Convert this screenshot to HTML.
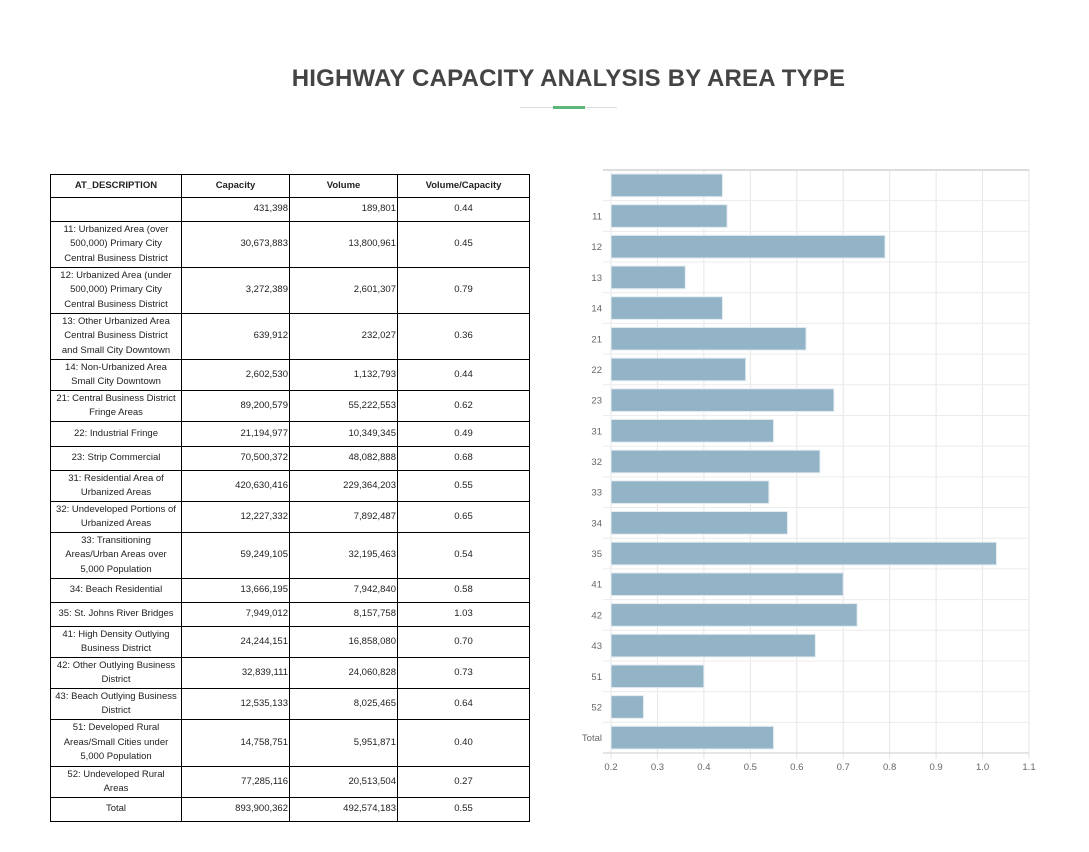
<!DOCTYPE html>
<html><head><meta charset="utf-8"><style>
body{margin:0;background:#fff;width:1089px;height:852px;position:relative;font-family:"Liberation Sans",sans-serif;overflow:hidden}
#title{position:absolute;left:24px;width:1089px;top:65px;text-align:center;font-size:24px;font-weight:bold;color:#444;letter-spacing:0.2px}
#rule{position:absolute;left:520px;top:107px;width:97px;height:1px;background:#ddd}
#rule-g{position:absolute;left:553px;top:106px;width:32px;height:3px;background:#5cb87a}
table{position:absolute;left:50px;top:174px;border-collapse:collapse;font-size:9.5px;color:#222;width:479px;table-layout:fixed}
td,th{border:1px solid #000;padding:0 1px;line-height:14.5px}
th{height:22px;font-weight:bold}
td.d{text-align:center;padding:0 7px}
td.n{text-align:right}
td.v{text-align:center}
</style></head><body>
<div id="title">HIGHWAY CAPACITY ANALYSIS BY AREA TYPE</div>
<div id="rule"></div>
<div id="rule-g"></div>
<table>
<colgroup><col style="width:131px"><col style="width:108px"><col style="width:108px"><col style="width:132px"></colgroup>
<tr><th>AT_DESCRIPTION</th><th>Capacity</th><th>Volume</th><th>Volume/Capacity</th></tr>
<tr style="height:24px"><td class="d"></td><td class="n">431,398</td><td class="n">189,801</td><td class="v">0.44</td></tr>
<tr style="height:46px"><td class="d">11: Urbanized Area (over 500,000) Primary City Central Business District</td><td class="n">30,673,883</td><td class="n">13,800,961</td><td class="v">0.45</td></tr>
<tr style="height:46px"><td class="d">12: Urbanized Area (under 500,000) Primary City Central Business District</td><td class="n">3,272,389</td><td class="n">2,601,307</td><td class="v">0.79</td></tr>
<tr style="height:46px"><td class="d">13: Other Urbanized Area Central Business District and Small City Downtown</td><td class="n">639,912</td><td class="n">232,027</td><td class="v">0.36</td></tr>
<tr style="height:31px"><td class="d">14: Non-Urbanized Area Small City Downtown</td><td class="n">2,602,530</td><td class="n">1,132,793</td><td class="v">0.44</td></tr>
<tr style="height:31px"><td class="d" style="padding:0 1px">21: Central Business District Fringe Areas</td><td class="n">89,200,579</td><td class="n">55,222,553</td><td class="v">0.62</td></tr>
<tr style="height:25px"><td class="d">22: Industrial Fringe</td><td class="n">21,194,977</td><td class="n">10,349,345</td><td class="v">0.49</td></tr>
<tr style="height:24px"><td class="d">23: Strip Commercial</td><td class="n">70,500,372</td><td class="n">48,082,888</td><td class="v">0.68</td></tr>
<tr style="height:31px"><td class="d">31: Residential Area of Urbanized Areas</td><td class="n">420,630,416</td><td class="n">229,364,203</td><td class="v">0.55</td></tr>
<tr style="height:31px"><td class="d" style="padding:0 1px">32: Undeveloped Portions of Urbanized Areas</td><td class="n">12,227,332</td><td class="n">7,892,487</td><td class="v">0.65</td></tr>
<tr style="height:46px"><td class="d">33: Transitioning Areas/Urban Areas over 5,000 Population</td><td class="n">59,249,105</td><td class="n">32,195,463</td><td class="v">0.54</td></tr>
<tr style="height:24px"><td class="d">34: Beach Residential</td><td class="n">13,666,195</td><td class="n">7,942,840</td><td class="v">0.58</td></tr>
<tr style="height:24px"><td class="d" style="padding:0 1px">35: St. Johns River Bridges</td><td class="n">7,949,012</td><td class="n">8,157,758</td><td class="v">1.03</td></tr>
<tr style="height:31px"><td class="d">41: High Density Outlying Business District</td><td class="n">24,244,151</td><td class="n">16,858,080</td><td class="v">0.70</td></tr>
<tr style="height:31px"><td class="d" style="padding:0 1px">42: Other Outlying Business District</td><td class="n">32,839,111</td><td class="n">24,060,828</td><td class="v">0.73</td></tr>
<tr style="height:31px"><td class="d" style="padding:0 1px">43: Beach Outlying Business District</td><td class="n">12,535,133</td><td class="n">8,025,465</td><td class="v">0.64</td></tr>
<tr style="height:47px"><td class="d">51: Developed Rural Areas/Small Cities under 5,000 Population</td><td class="n">14,758,751</td><td class="n">5,951,871</td><td class="v">0.40</td></tr>
<tr style="height:31px"><td class="d">52: Undeveloped Rural Areas</td><td class="n">77,285,116</td><td class="n">20,513,504</td><td class="v">0.27</td></tr>
<tr style="height:24px"><td class="d">Total</td><td class="n">893,900,362</td><td class="n">492,574,183</td><td class="v">0.55</td></tr>
</table>
<svg id="chart" width="1089" height="852" style="position:absolute;left:0;top:0"></svg>
<script>
const categories=["","11","12","13","14","21","22","23","31","32","33","34","35","41","42","43","51","52","Total"];
const ratios=[0.44,0.45,0.79,0.36,0.44,0.62,0.49,0.68,0.55,0.65,0.54,0.58,1.03,0.70,0.73,0.64,0.40,0.27,0.55];
const xTicks=[0.2,0.3,0.4,0.5,0.6,0.7,0.8,0.9,1.0,1.1];
const NS="http://www.w3.org/2000/svg";
const svgEl=document.getElementById('chart');
const PL=611,PR=1029,PT=170,PB=753,x0=0.2,x1=1.1;
const X=v=>PL+(v-x0)/(x1-x0)*(PR-PL);
const band=(PB-PT)/categories.length;
const Y=i=>PT+i*band;
function mk(tag,attrs){const e=document.createElementNS(NS,tag);for(const k in attrs)e.setAttribute(k,attrs[k]);svgEl.appendChild(e);return e;}
xTicks.forEach(t=>{
  const g=mk('line',{x1:X(t),x2:X(t),y1:PT,y2:PB+6,stroke:'#e6e6e6'});
  
  
  const tx=mk('text',{x:X(t),y:PB+17,'text-anchor':'middle','font-size':'9.5',fill:'#666','font-family':'Liberation Sans, sans-serif'});
  tx.textContent=t.toFixed(1);
  
  
});
categories.forEach((c,i)=>{
  const gl=mk('line',{x1:603,x2:PR,y1:Y(i),y2:Y(i),stroke:'#ececec'});
  
  
  const r=mk('rect',{x:PL,y:Y(i)+4,width:X(ratios[i])-PL,height:band-8,fill:'#93b4c7',stroke:'#e4edf2','stroke-width':'1'});
  
  
  const tx=mk('text',{x:602,y:Y(i)+band/2+3.5,'text-anchor':'end','font-size':'9.5',fill:'#666','font-family':'Liberation Sans, sans-serif'});
  tx.textContent=c;
  
  
});
const topBorder=mk('line',{x1:603,x2:PR,y1:PT,y2:PT,stroke:'#ddd','stroke-width':'2'});


const axisLine=mk('line',{x1:603,x2:PR,y1:PB,y2:PB,stroke:'#ccc'});


</script>
</body></html>
